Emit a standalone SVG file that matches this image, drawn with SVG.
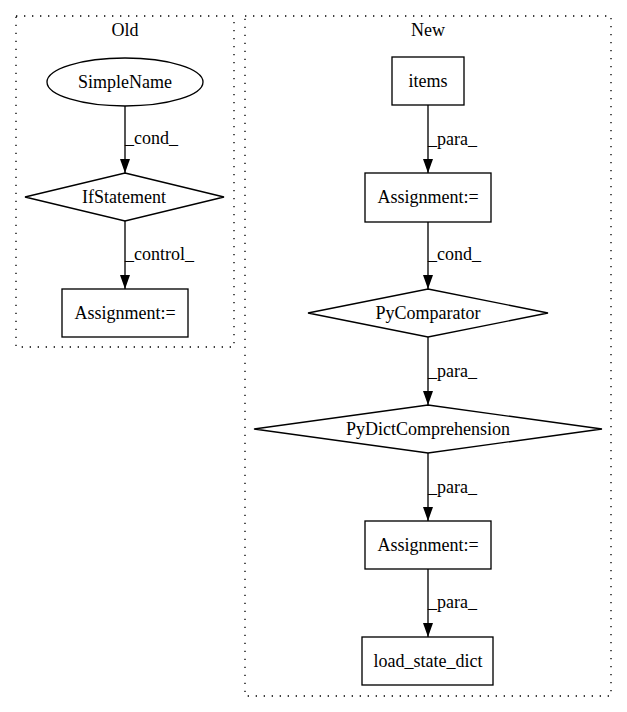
<svg xmlns="http://www.w3.org/2000/svg" width="627" height="712" viewBox="0 0 627 712">
<style>
text{font-family:'Liberation Serif','DejaVu Serif','Times New Roman',serif;font-size:18px;fill:#000}
.n{text-anchor:middle}
.shape{fill:none;stroke:#000;stroke-width:1.33}
.cluster{fill:none;stroke:#000;stroke-width:1.33;stroke-dasharray:1.33,6.67}
.edge{fill:none;stroke:#000;stroke-width:1.33}
</style>
<defs>
<marker id="arr" markerWidth="14" markerHeight="10" viewBox="0 0 14 10" refX="14" refY="5" markerUnits="userSpaceOnUse" orient="auto">
<path d="M0,0 L14,5 L0,10 Z" fill="#000"/>
</marker>
</defs>
<rect width="627" height="712" fill="#fff"/>
<g font-family="Liberation Serif, DejaVu Serif, serif">
<g id="cluster_old">
<rect class="cluster" x="16" y="16" width="218" height="331"/>
<text class="n" x="125" y="36">Old</text>
</g>
<g id="cluster_new">
<rect class="cluster" x="245" y="16" width="366" height="680"/>
<text class="n" x="428" y="36">New</text>
</g>
<g id="connectors">
<path class="edge" d="M125,106 L125,173" marker-end="url(#arr)"/>
<text x="125" y="144">_cond_</text>
<path class="edge" d="M125,221 L125,289" marker-end="url(#arr)"/>
<text x="125" y="260">_control_</text>
<path class="edge" d="M428,105 L428,173" marker-end="url(#arr)"/>
<text x="428" y="145">_para_</text>
<path class="edge" d="M428,222 L428,289" marker-end="url(#arr)"/>
<text x="428" y="260">_cond_</text>
<path class="edge" d="M428,337 L428,405" marker-end="url(#arr)"/>
<text x="428" y="377">_para_</text>
<path class="edge" d="M428,453 L428,521" marker-end="url(#arr)"/>
<text x="428" y="493">_para_</text>
<path class="edge" d="M428,569 L428,637" marker-end="url(#arr)"/>
<text x="428" y="608">_para_</text>
</g>
<g id="old_simplename">
<ellipse class="shape" cx="125" cy="82" rx="78" ry="24"/>
<text class="n" x="125" y="88">SimpleName</text>
</g>
<g id="old_ifstatement">
<polygon class="shape" points="125,173 224,197 125,221 25,197"/>
<text class="n" x="124" y="203">IfStatement</text>
</g>
<g id="old_assignment">
<rect class="shape" x="62" y="289" width="126" height="48"/>
<text class="n" x="125" y="319">Assignment:=</text>
</g>
<g id="new_items">
<rect class="shape" x="392" y="57" width="72" height="48"/>
<text class="n" x="428" y="87">items</text>
</g>
<g id="new_assignment1">
<rect class="shape" x="365" y="173" width="126" height="49"/>
<text class="n" x="428" y="203">Assignment:=</text>
</g>
<g id="new_pycomparator">
<polygon class="shape" points="428,289 548,313 428,337 308,313"/>
<text class="n" x="428" y="319">PyComparator</text>
</g>
<g id="new_pydictcomprehension">
<polygon class="shape" points="428,405 602,429 428,453 254,429"/>
<text class="n" x="428" y="435">PyDictComprehension</text>
</g>
<g id="new_assignment2">
<rect class="shape" x="365" y="521" width="126" height="48"/>
<text class="n" x="428" y="551">Assignment:=</text>
</g>
<g id="new_load_state_dict">
<rect class="shape" x="362" y="637" width="131" height="48"/>
<text class="n" x="428" y="667">load_state_dict</text>
</g>
</g>
</svg>
